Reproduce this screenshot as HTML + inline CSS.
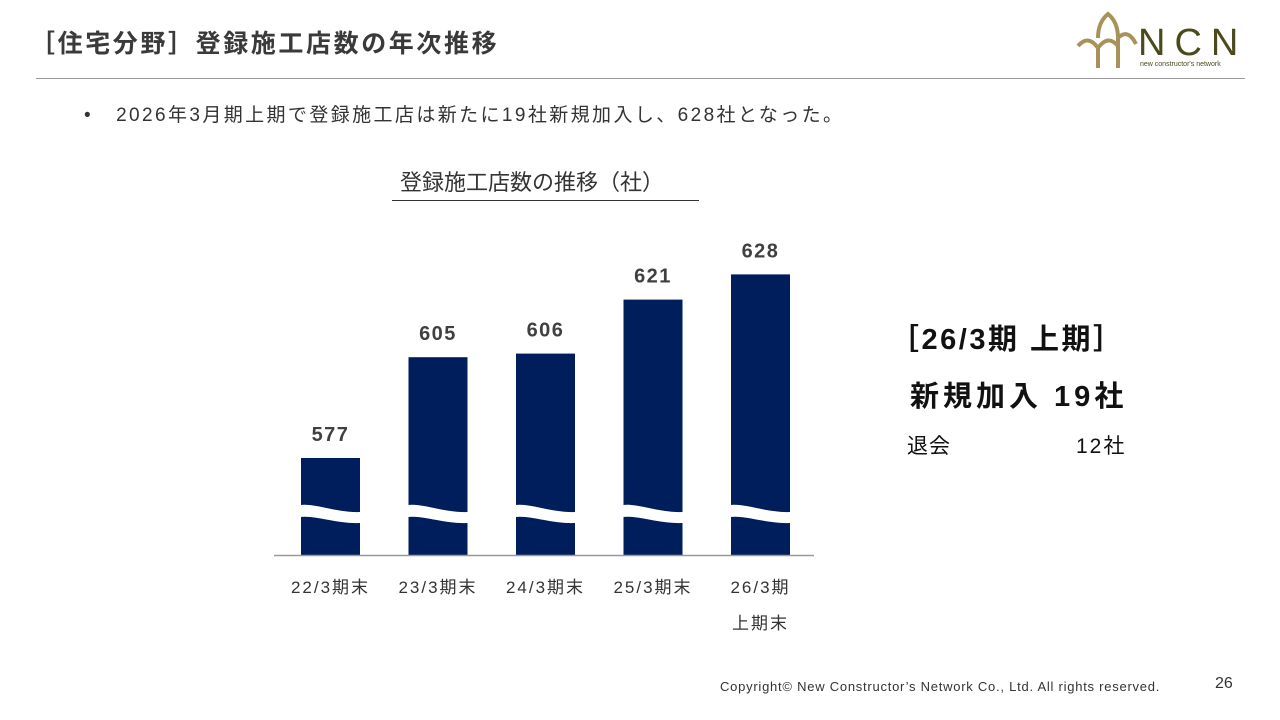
<!DOCTYPE html>
<html><head><meta charset="utf-8">
<style>
body{margin:0;width:1280px;height:720px;background:#fff;font-family:"Liberation Sans","Noto Sans CJK JP",sans-serif;position:relative;overflow:hidden;color:#333}
.a{position:absolute;white-space:nowrap}
</style></head><body>
<div class="a" style="left:30px;top:24px;font-size:25px;font-weight:bold;color:#3a3a3a;letter-spacing:2.6px">［住宅分野］登録施工店数の年次推移</div>
<div class="a" style="left:36px;top:78px;width:1209px;height:1px;background:#9a9a9a"></div>
<svg class="a" style="left:1070px;top:8px" width="180" height="66">
<g fill="none" stroke="#a8925a" stroke-width="4">
<path d="M8 38 Q18 26 28 40 L28 60 M28 40 Q38 26 48 38 M28 30 Q28 14 38 6 Q48 14 48 30 L48 60 M48 30 Q58 20 66 36"/>
</g>
<text x="68" y="47" font-family="Liberation Sans" font-size="38" fill="#4a4a1c" letter-spacing="9">NCN</text>
<text x="70" y="58" font-family="Liberation Sans" font-size="7" fill="#4a4a1c">new constructor's network</text>
</svg>
<div class="a" style="left:84px;top:100px;font-size:19px;color:#333;letter-spacing:2.4px">•&nbsp;&nbsp;&nbsp;2026年3月期上期で登録施工店は新たに19社新規加入し、628社となった。</div>
<div class="a" style="left:400px;top:165px;font-size:22px;color:#333">登録施工店数の推移（社）</div>
<div class="a" style="left:392px;top:200px;width:307px;height:1px;background:#333"></div>
<svg id="chart" class="a" style="left:0;top:0" width="1280" height="720"></svg>
<div class="a" style="left:890px;top:316px;font-size:29px;font-weight:bold;color:#111;letter-spacing:2.5px">［26/3期 上期］</div>
<div class="a" style="left:910px;top:373px;font-size:29px;font-weight:bold;color:#111;letter-spacing:4px">新規加入 19社</div>
<div class="a" style="left:907px;top:430px;font-size:21px;color:#111;letter-spacing:1px">退会</div>
<div class="a" style="left:1076px;top:430px;font-size:21px;color:#111;letter-spacing:2px">12社</div>
<div class="a" style="left:720px;top:679px;font-size:13px;color:#333;letter-spacing:0.75px">Copyright© New Constructor’s Network Co., Ltd. All rights reserved.</div>
<div class="a" style="left:1215px;top:675px;font-size:16px;color:#333">26</div>
<script>
const categories=["22/3期末","23/3期末","24/3期末","25/3期末","26/3期"];
const subLabels=["","","","","上期末"];
const values=[577,605,606,621,628];
const ns="http://www.w3.org/2000/svg";
const svg=document.getElementById('chart');
const base=555,refV=577,refY=458,ppu=3.6,x0=301,step=107.5,bw=59;
const y=v=>refY-(v-refV)*ppu;
const xp=i=>x0+i*step;
function mk(t,a){const e=document.createElementNS(ns,t);for(const k in a)e.setAttribute(k,a[k]);svg.appendChild(e);return e;}
values.forEach((v,i)=>{
 const x=xp(i),top=y(v);
 const r=mk('rect',{x:x,y:top,width:bw,height:base-top,fill:'#001e5c'});
 
 
 const w=mk('path',{d:`M${x-1} 505 C${x+15} 503 ${x+35} 513 ${x+bw+1} 512 L${x+bw+1} 523 C${x+35} 524 ${x+15} 515 ${x-1} 517 Z`,fill:'#fff'});
 
 
 const t=mk('text',{x:x+bw/2,y:top-17,'text-anchor':'middle','font-size':20,'font-weight':'bold',fill:'#404040','font-family':'Liberation Sans','letter-spacing':1.5});
 t.textContent=v;
 
 
 const c=mk('text',{x:x+bw/2,y:593,'text-anchor':'middle','font-size':17,fill:'#333','font-family':'Liberation Sans, Noto Sans CJK JP, sans-serif','letter-spacing':2});
 c.textContent=categories[i];
 
 
 if(subLabels[i]){const s=mk('text',{x:x+bw/2,y:629,'text-anchor':'middle','font-size':17,fill:'#333','font-family':'Liberation Sans, Noto Sans CJK JP, sans-serif','letter-spacing':2});
 s.textContent=subLabels[i];
 
 }
});
const ax=mk('line',{x1:274,x2:814,y1:base+0.5,y2:base+0.5,stroke:'#999','stroke-width':1.5});


</script>
</body></html>
